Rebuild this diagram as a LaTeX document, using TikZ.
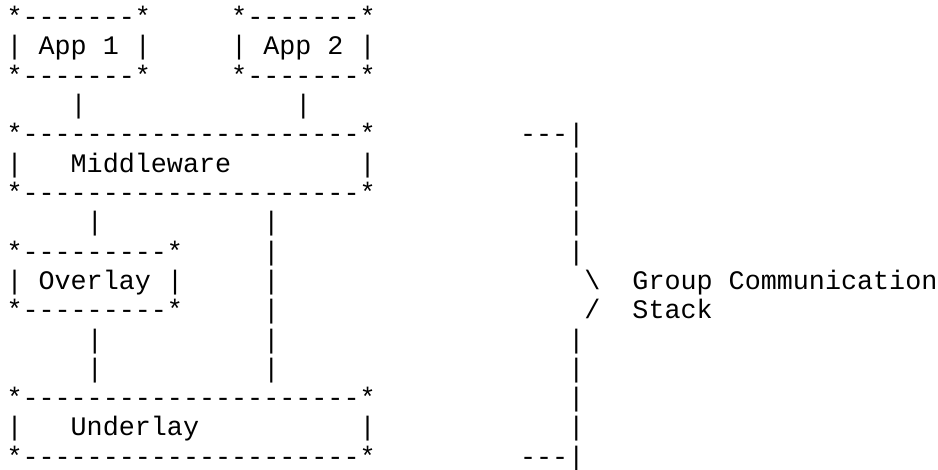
\documentclass[tikz,border=0pt]{standalone}
\usepackage{fontspec}
\setmonofont{Liberation Mono}
\tikzset{txt/.style={anchor=base west,inner sep=0pt,outer sep=0pt,font=\ttfamily\fontsize{20.06pt}{22pt}\selectfont}}
\newcommand\seg[4]{\node[txt] (#1) at ({6.5+16.05*#2},{25.7+29.3*(#3-1)}) {#4};}
\begin{document}
\begin{tikzpicture}[x=0.75pt,y=-0.75pt]
\fill[white] (0,0) rectangle (938,470);
\useasboundingbox (0,0) rectangle (938,470);
% row 1-3: App boxes
\seg{aonetop}{0}{1}{*-------*}
\seg{atwotop}{14}{1}{*-------*}
\seg{aonel}{0}{2}{|}
\seg{aonet}{2}{2}{App 1}
\seg{aoner}{8}{2}{|}
\seg{atwol}{14}{2}{|}
\seg{atwot}{16}{2}{App 2}
\seg{atwor}{22}{2}{|}
\seg{aonebot}{0}{3}{*-------*}
\seg{atwobot}{14}{3}{*-------*}
\seg{linka}{4}{4}{|}
\seg{linkb}{18}{4}{|}
% Middleware
\seg{mtop}{0}{5}{*---------------------*}
\seg{btop}{32}{5}{---|}
\seg{ml}{0}{6}{|}
\seg{mt}{4}{6}{Middleware}
\seg{mr}{22}{6}{|}
\seg{bsix}{35}{6}{|}
\seg{mbot}{0}{7}{*---------------------*}
\seg{bseven}{35}{7}{|}
% links
\seg{lceight}{5}{8}{|}
\seg{rceight}{16}{8}{|}
\seg{beight}{35}{8}{|}
% Overlay
\seg{otop}{0}{9}{*---------*}
\seg{rcnine}{16}{9}{|}
\seg{bnine}{35}{9}{|}
\seg{ol}{0}{10}{|}
\seg{ot}{2}{10}{Overlay}
\seg{or}{10}{10}{|}
\seg{rcten}{16}{10}{|}
\seg{bslash}{36}{10}{\textbackslash}
\seg{gct}{39}{10}{Group Communication}
\seg{obot}{0}{11}{*---------*}
\seg{rceleven}{16}{11}{|}
\seg{fslash}{36}{11}{/}
\seg{st}{39}{11}{Stack}
\seg{lctwelve}{5}{12}{|}
\seg{rctwelve}{16}{12}{|}
\seg{btwelve}{35}{12}{|}
\seg{lcthirteen}{5}{13}{|}
\seg{rcthirteen}{16}{13}{|}
\seg{bthirteen}{35}{13}{|}
% Underlay
\seg{utop}{0}{14}{*---------------------*}
\seg{bfourteen}{35}{14}{|}
\seg{ul}{0}{15}{|}
\seg{ut}{4}{15}{Underlay}
\seg{ur}{22}{15}{|}
\seg{bfifteen}{35}{15}{|}
\seg{ubot}{0}{16}{*---------------------*}
\seg{bbot}{32}{16}{---|}
\end{tikzpicture}
\end{document}
